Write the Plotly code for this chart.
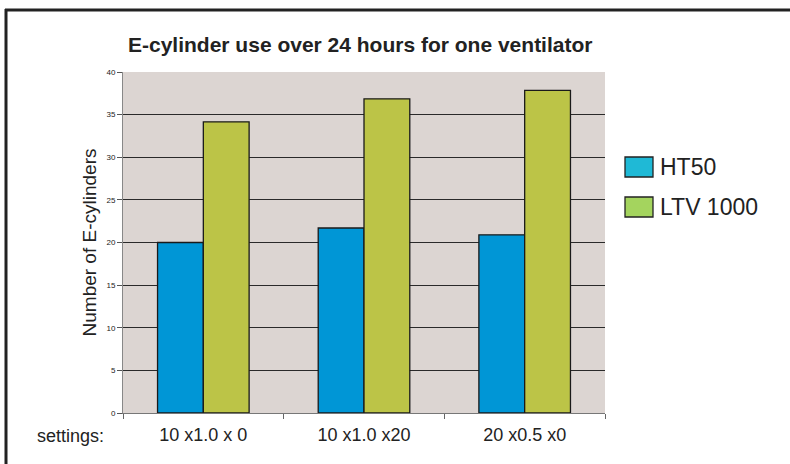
import plotly.graph_objects as go

categories = ["10 x1.0 x 0", "10 x1.0 x20", "20 x0.5 x0"]
ht50 = [20.0, 21.7, 20.9]
ltv1000 = [34.15, 36.85, 37.85]
series_names = ["HT50", "LTV 1000"]
bar_colors = ["#0096d6", "#bcc447"]
legend_colors = ["#1fb9d6", "#a4d45e"]
y_ticks = [0, 5, 10, 15, 20, 25, 30, 35, 40]

W, H = 790, 464
L, R, T, B = 123, 185, 72, 51
pw, ph = W - L - R, H - T - B

def px(x):
    return (x - L) / pw

def py(y):
    return (H - B - y) / ph

fig = go.Figure()
for name, vals, col in zip(series_names, [ht50, ltv1000], bar_colors):
    fig.add_trace(go.Bar(x=categories, y=vals, name=name, marker_color=col,
                         marker_line_color="#1a1a1a", marker_line_width=1.3,
                         showlegend=False, hoverinfo="skip"))

shapes = [
    dict(type="line", xref="paper", yref="paper", x0=px(5), x1=px(800), y0=py(10), y1=py(10),
         line=dict(color="#222222", width=3)),
    dict(type="line", xref="paper", yref="paper", x0=px(6), x1=px(6), y0=py(9), y1=py(470),
         line=dict(color="#222222", width=3)),
]
annotations = [
    dict(text="<b>E-cylinder use over 24 hours for one ventilator</b>", xref="paper", yref="paper",
         x=px(360), y=py(44), showarrow=False, font=dict(size=21, color="#222222"),
         xanchor="center", yanchor="middle"),
    dict(text="settings:", xref="paper", yref="paper", x=px(70), y=py(436), showarrow=False,
         font=dict(size=18, color="#222222"), xanchor="center", yanchor="middle"),
]
leg_y = [167, 207]
for name, col, yc in zip(series_names, legend_colors, leg_y):
    shapes.append(dict(type="rect", xref="paper", yref="paper", x0=px(625), x1=px(653),
                       y0=py(yc - 10), y1=py(yc + 10), fillcolor=col,
                       line=dict(color="#222222", width=1.3)))
    annotations.append(dict(text=name, xref="paper", yref="paper", x=px(658), y=py(yc),
                            showarrow=False, font=dict(size=23, color="#222222"),
                            xanchor="left", yanchor="middle"))

fig.update_layout(
    width=W, height=H,
    margin=dict(l=L, r=R, t=T, b=B),
    paper_bgcolor="white", plot_bgcolor="#dcd5d2",
    font=dict(family="Liberation Sans, Arial, sans-serif", color="#222222"),
    barmode="group", bargap=0.43, bargroupgap=0,
    shapes=shapes, annotations=annotations,
    xaxis=dict(type="category", tickson="boundaries", ticks="outside", ticklen=5,
               tickcolor="#666666", showline=True, linecolor="#777777", linewidth=1,
               tickfont=dict(size=18, color="#222222"), showgrid=False,
               ticklabelstandoff=5),
    yaxis=dict(range=[0, 40], tickvals=y_ticks, ticks="outside", ticklen=5,
               tickcolor="#555555", showline=True, linecolor="#888888", linewidth=1,
               gridcolor="#2a2a2a", gridwidth=1, tickfont=dict(size=8, color="#222222"),
               title=dict(text="Number of E-cylinders", font=dict(size=19, color="#222222"),
                          standoff=4),
               zeroline=False),
)
fig.write_html("out.html", config={"displayModeBar": False})

with open("out.html", "r", encoding="utf-8") as f:
    html = f.read()
html = html.replace("<head>", "<head><style>html,body{margin:0;padding:0;overflow:hidden;}</style>", 1)
with open("out.html", "w", encoding="utf-8") as f:
    f.write(html)
